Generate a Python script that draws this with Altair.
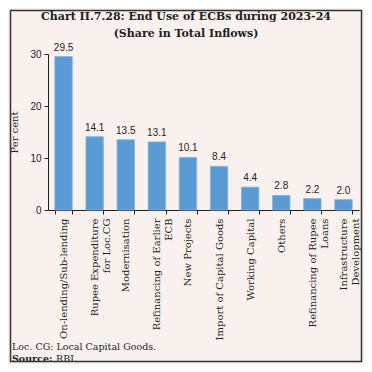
import altair as alt
import pandas as pd

categories = [
    "On-lending/Sub-lending",
    "Rupee Expenditure|for Loc.CG",
    "Modernisation",
    "Refinancing of Earlier|ECB",
    "New Projects",
    "Import of Capital Goods",
    "Working Capital",
    "Others",
    "Refinancing of Rupee|Loans",
    "Infrastructure|Development",
]
values = [29.5, 14.1, 13.5, 13.1, 10.1, 8.4, 4.4, 2.8, 2.2, 2.0]
value_labels = ["29.5", "14.1", "13.5", "13.1", "10.1", "8.4", "4.4", "2.8", "2.2", "2.0"]
y_ticks = [0, 10, 20, 30]

title_lines = ["Chart II.7.28: End Use of ECBs during 2023-24", "(Share in Total Inflows)"]
note_text = "Loc. CG: Local Capital Goods."
source_label = "Source:"
source_text = "RBI."

BG = "#f8f1ed"
BAR = "#5b9bd5"
FONT = "DejaVu Serif"
INK = "#231f20"

df = pd.DataFrame({"cat": categories, "val": values, "lab": value_labels})

x_enc = alt.X(
    "cat:N",
    sort=None,
    title=None,
    scale=alt.Scale(paddingInner=0.44, paddingOuter=0.22),
    axis=alt.Axis(
        labelAngle=270,
        labelExpr="split(datum.label, '|')",
        labelLineHeight=12,
        labelFont=FONT,
        labelFontSize=10,
        labelColor=INK,
        labelPadding=4,
        tickSize=4,
        tickBand="extent",
        tickColor=INK,
        domainColor=INK,
        labelLimit=200,
    ),
)
y_enc = alt.Y(
    "val:Q",
    title="Per cent",
    scale=alt.Scale(domain=[0, 30], nice=False),
    axis=alt.Axis(
        values=y_ticks,
        grid=False,
        tickSize=4,
        tickColor=INK,
        domainColor=INK,
        labelFont="Liberation Sans",
        labelFontSize=10,
        labelColor=INK,
        labelPadding=3,
        titleFont=FONT,
        titleFontSize=10,
        titleFontWeight="normal",
        titleColor=INK,
        titlePadding=10,
    ),
)

base = alt.Chart(df)
bars = base.mark_bar(color=BAR, stroke="#84b4e2", strokeWidth=0.8).encode(x=x_enc, y=y_enc)
labels = base.mark_text(baseline="bottom", dy=-4, font="Liberation Sans", fontSize=10, color=INK).encode(
    x=alt.X("cat:N", sort=None), y="val:Q", text="lab:N"
)

title1 = alt.Chart(pd.DataFrame({"t": [title_lines[0]]})).mark_text(
    font=FONT, fontSize=11, fontWeight="bold", color=INK, align="center", baseline="middle"
).encode(text="t:N", x=alt.value(138), y=alt.value(-37))
title2 = alt.Chart(pd.DataFrame({"t": [title_lines[1]]})).mark_text(
    font=FONT, fontSize=11, fontWeight="bold", color=INK, align="center", baseline="middle"
).encode(text="t:N", x=alt.value(138), y=alt.value(-20))

note = alt.Chart(pd.DataFrame({"t": [note_text]})).mark_text(
    font=FONT, fontSize=9.5, color=INK, align="left", baseline="middle"
).encode(text="t:N", x=alt.value(-36), y=alt.value(293))
src1 = alt.Chart(pd.DataFrame({"t": [source_label]})).mark_text(
    font=FONT, fontSize=9.5, fontWeight="bold", color=INK, align="left", baseline="middle"
).encode(text="t:N", x=alt.value(-36), y=alt.value(305))
src2 = alt.Chart(pd.DataFrame({"t": [source_text]})).mark_text(
    font=FONT, fontSize=9.5, color=INK, align="left", baseline="middle"
).encode(text="t:N", x=alt.value(8), y=alt.value(305))

frame = alt.Chart(pd.DataFrame({"a": [0]})).mark_rect(
    filled=False, stroke="#333333", strokeWidth=1.5
).encode(
    x=alt.value(-37.5), x2=alt.value(313.5), y=alt.value(-43.5), y2=alt.value(307.5)
)

chart = alt.layer(bars, labels, title1, title2, note, src1, src2, frame).properties(
    width=311,
    height=156,
    background=BG,
    padding={"left": 40, "top": 46, "right": 5, "bottom": 154},
    autosize=alt.AutoSizeParams(type="none"),
).configure_view(stroke=None)

chart.save("out.html", embed_options={"renderer": "svg", "actions": False})
